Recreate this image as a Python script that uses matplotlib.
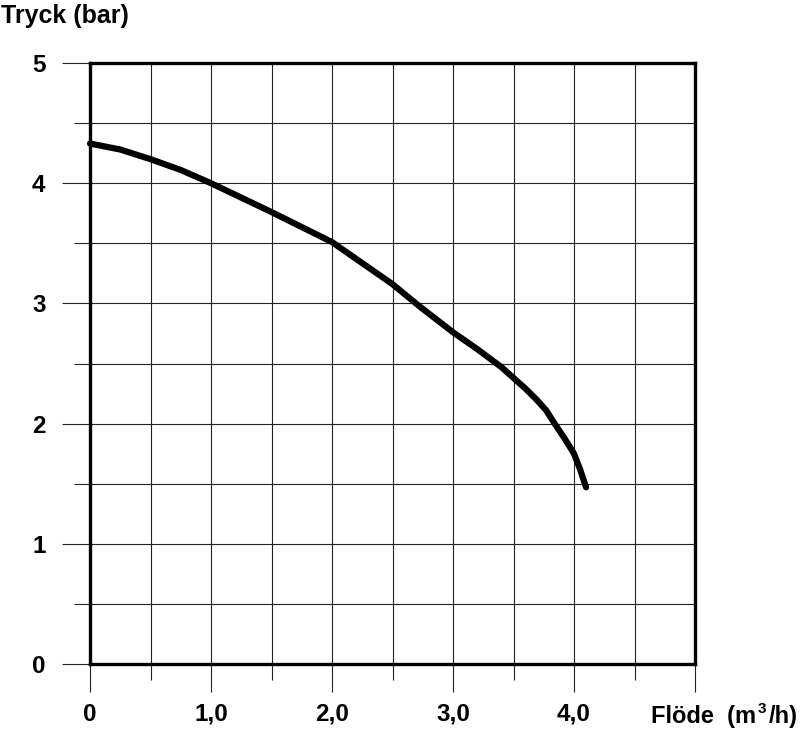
import matplotlib
matplotlib.use("Agg")
import matplotlib.pyplot as plt
from matplotlib.ticker import MultipleLocator, FixedLocator

flow = [0, 0.25, 0.5, 0.75, 1.0, 1.5, 2.0, 2.5, 2.73, 3.0, 3.2, 3.4, 3.5, 3.6, 3.69, 3.77, 3.84, 3.92, 4.0, 4.05, 4.1]
pressure = [4.33, 4.28, 4.20, 4.11, 4.0, 3.76, 3.51, 3.16, 2.97, 2.76, 2.62, 2.47, 2.38, 2.29, 2.20, 2.11, 2.0, 1.88, 1.75, 1.62, 1.47]
x_ticks = [0, 1, 2, 3, 4, 5]
x_labels = ["0", "1,0", "2,0", "3,0", "4,0", ""]
y_ticks = [0, 1, 2, 3, 4, 5]
y_labels = ["0", "1", "2", "3", "4", "5"]

plt.rcParams['font.family'] = ['Liberation Sans', 'DejaVu Sans']

fig = plt.figure(figsize=(8, 7.32), dpi=100)
ax = fig.add_axes([90/800, 1-664/732, 605/800, 601/732])
ax.set_xlim(0, 5)
ax.set_ylim(0, 5)

ax.xaxis.set_major_locator(FixedLocator(x_ticks))
ax.xaxis.set_minor_locator(MultipleLocator(0.5))
ax.yaxis.set_major_locator(FixedLocator(y_ticks))
ax.yaxis.set_minor_locator(MultipleLocator(0.5))
ax.set_xticklabels(x_labels)
ax.set_yticklabels(y_labels)

ax.grid(True, which='both', color='#222222', linewidth=0.8)
ax.set_axisbelow(True)
ax.tick_params(which='major', direction='out', length=20, width=0.8, color='#222222',
               labelsize=17.5, pad=8)
ax.tick_params(which='minor', direction='out', length=11.5, width=0.8, color='#222222')
ax.tick_params(axis='y', which='major', pad=12)
for lbl in ax.get_xticklabels() + ax.get_yticklabels():
    lbl.set_fontweight('bold')

for s in ax.spines.values():
    s.set_linewidth(2.4)
    s.set_color('black')

ax.plot(flow, pressure, color='black', linewidth=4.5, solid_capstyle='round',
        solid_joinstyle='round', zorder=5, clip_on=False)

fig.text(1/800, 1-16/732, "Tryck (bar)", fontsize=18, fontweight='bold', ha='left', va='center')
fig.text(651/800, 1-717/732, "Flöde  (m", fontsize=17, fontweight='bold',
         ha='left', va='center')
fig.text(798/800, 1-717/732, "/h)", fontsize=17, fontweight='bold',
         ha='right', va='center')
fig.text(762/800, 1-709/732, "3", fontsize=11, fontweight='bold',
         ha='center', va='center')

fig.savefig("out.png", dpi=100)
